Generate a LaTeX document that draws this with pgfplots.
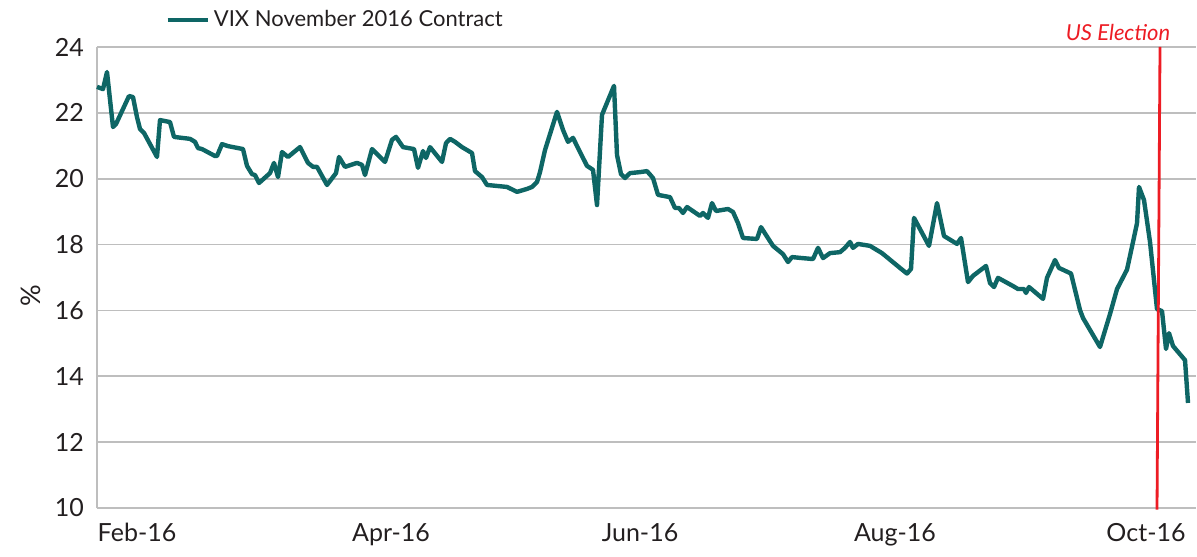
\documentclass[border=0pt]{standalone}
\usepackage{pgfplots}
\pgfplotsset{compat=1.18}
\usepackage{fontspec}
\setmainfont{Lato}
\definecolor{vix}{RGB}{14,102,101}
\definecolor{elec}{RGB}{237,28,36}
\definecolor{gridc}{RGB}{190,190,190}
\definecolor{txt}{RGB}{35,31,32}
\begin{document}
\begin{tikzpicture}
\begin{axis}[
  name=ax,
  scale only axis,
  width=549.5pt, height=230.5pt,
  xmin=97, xmax=1196,
  ymin=10, ymax=24,
  ytick={10,12,...,24},
  xtick={137,391,640,895,1146},
  xticklabels={Feb-16,Apr-16,Jun-16,Aug-16,Oct-16},
  major tick length=0pt,
  ymajorgrids,
  grid style={gridc, line width=0.9pt},
  axis lines=left,
  axis line style={gridc, line width=0.9pt, -},
  /pgf/number format/assume math mode=true,
  tick label style={font=\fontsize{12.5}{14}\selectfont, text=txt},
  yticklabel style={xshift=-3pt},
  xticklabel style={yshift=-4pt},
  ylabel={\%},
  ylabel style={at={(axis description cs:-0.060,0.46)}, anchor=center, font=\fontsize{13.5}{15}\selectfont, text=txt},
  clip=false,
  legend style={at={(axis description cs:0.062,1.0586)}, anchor=west, draw=none, fill=none, inner sep=0pt, font=\fontsize{11}{13}\selectfont, text=txt, /tikz/every even column/.append style={column sep=3pt}},
  legend image code/.code={\draw[#1] (0pt,0pt) -- (20pt,0pt);},
]
\addplot[vix, line width=2.2pt, line join=round] coordinates {
(97,22.79) (103,22.72) (107,23.24) (113,21.57) (116,21.66) (129,22.51) (133,22.48)
(137,21.87) (140,21.51) (144,21.39) (157,20.66) (160,21.78) (170,21.72) (174,21.27)
(190,21.21) (195,21.12) (198,20.93) (202,20.90) (215,20.69) (217,20.69) (222,21.05)
(228,20.99) (243,20.90) (247,20.39) (252,20.14) (255,20.11) (259,19.87) (270,20.17)
(274,20.48) (278,20.05) (282,20.81) (288,20.66) (300,20.96) (308,20.48) (313,20.36)
(317,20.36) (327,19.81) (336,20.17) (339,20.66) (345,20.36) (357,20.48) (362,20.42)
(365,20.11) (372,20.90) (385,20.51) (392,21.18) (396,21.27) (403,20.96) (414,20.90)
(418,20.33) (423,20.84) (426,20.63) (430,20.96) (442,20.51) (446,21.08) (450,21.21)
(455,21.12) (462,20.96) (472,20.78) (475,20.23) (482,20.05) (487,19.81) (497,19.78)
(507,19.75) (517,19.60) (527,19.69) (532,19.75) (537,19.90) (540,20.20) (545,20.87)
(557,22.03) (563,21.48) (568,21.12) (573,21.24) (580,20.81) (587,20.39) (593,20.27)
(597,19.20) (602,21.94) (614,22.82) (617,20.72) (621,20.14) (625,20.02) (630,20.17)
(640,20.20) (647,20.23) (653,20.02) (658,19.51) (670,19.44) (675,19.11) (679,19.11)
(683,18.96) (687,19.14) (700,18.87) (703,18.96) (708,18.81) (712,19.26) (716,19.02)
(728,19.08) (733,18.99) (738,18.65) (743,18.20) (757,18.17) (761,18.53) (766,18.29)
(773,17.96) (783,17.71) (788,17.47) (792,17.62) (802,17.59) (813,17.56) (818,17.90)
(823,17.59) (830,17.74) (840,17.77) (845,17.90) (850,18.08) (853,17.90) (858,18.02)
(870,17.96) (882,17.74) (900,17.29) (907,17.12) (911,17.26) (914,18.81) (929,17.96)
(937,19.26) (944,18.26) (957,18.02) (961,18.20) (968,16.86) (973,17.05) (986,17.35)
(990,16.83) (994,16.71) (998,16.99) (1013,16.74) (1018,16.65) (1024,16.65) (1026,16.53)
(1029,16.71) (1043,16.35) (1047,16.99) (1055,17.53) (1059,17.29) (1071,17.12) (1080,16.01)
(1083,15.77) (1100,14.89) (1110,15.89) (1117,16.65) (1127,17.24) (1133,18.08) (1137,18.65)
(1139,19.75) (1144,19.35) (1150,18.08) (1157,16.04) (1162,15.98) (1166,14.83) (1169,15.31)
(1173,14.92) (1185,14.49) (1188,13.19)
};
\addlegendentry{VIX November 2016 Contract}
\addplot[elec, line width=1.4pt, forget plot] coordinates {(1160,24) (1157,9.95)};
\node[text=elec, font=\fontsize{11}{13}\selectfont\itshape, anchor=center] at (axis cs:1118,24.45) {US Election};
\end{axis}
\pgfresetboundingbox
\path[use as bounding box] ([xshift=-48.5pt,yshift=-24pt]ax.south west) rectangle ([xshift=0.5pt,yshift=23.5pt]ax.north east);
\end{tikzpicture}
\end{document}
